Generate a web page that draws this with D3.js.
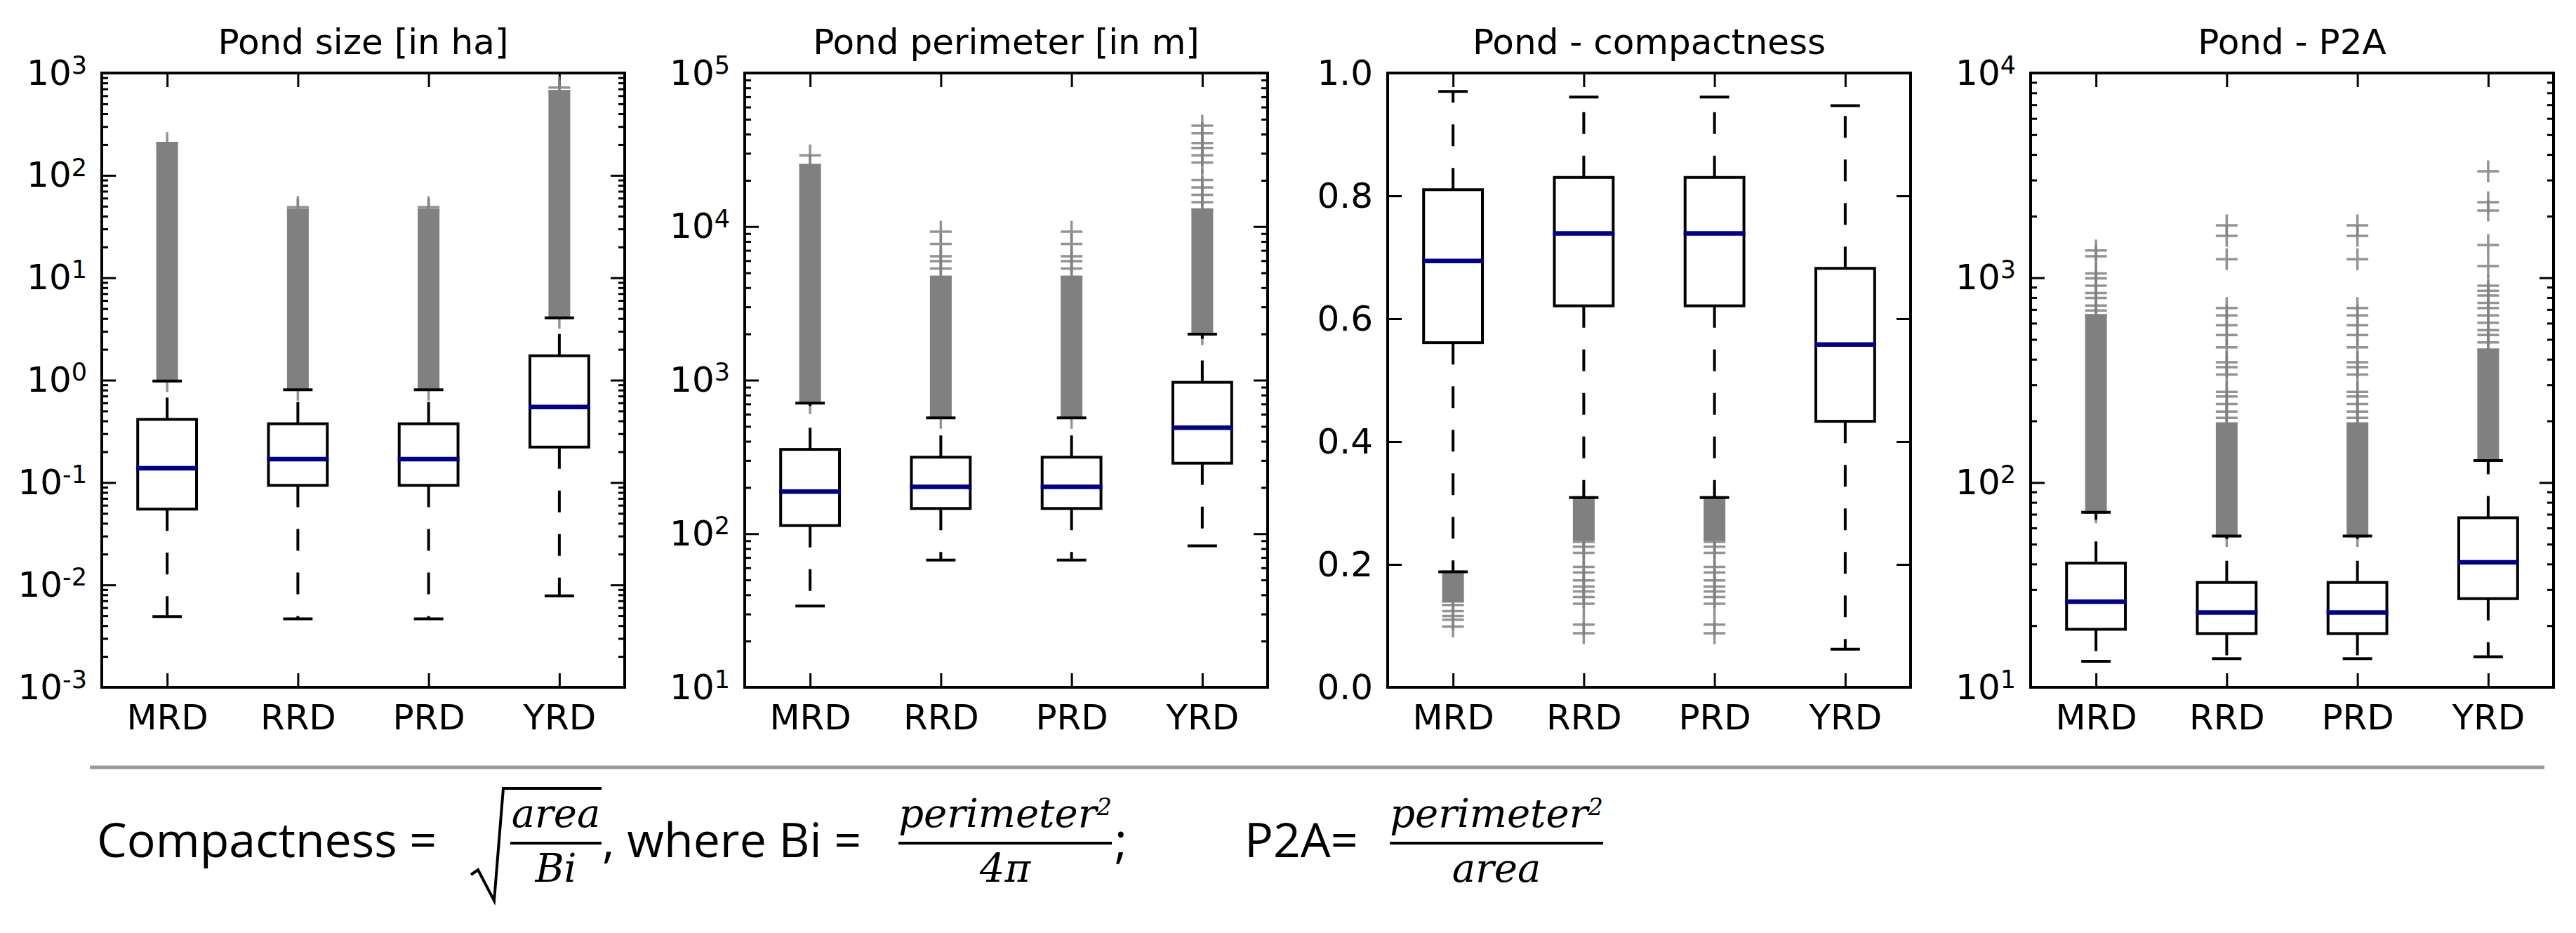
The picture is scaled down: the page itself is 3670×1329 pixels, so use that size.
<!DOCTYPE html>
<html>
<head>
<meta charset="utf-8">
<title>Pond shape metrics by delta</title>
<script src="https://cdn.jsdelivr.net/npm/d3@7"></script>
<style>
  body { margin: 0; background: #fff; }
  text { font-family: "DejaVu Sans", sans-serif; fill: #000; }
  .frame { fill: none; stroke: #000; stroke-width: 4; }
  .tick line { stroke: #000; stroke-width: 3; }
  .tick text { font-size: 50px; }
  .title { font-size: 50px; }
  .box { fill: none; stroke: #000; stroke-width: 4; }
  .whisker { stroke: #000; stroke-width: 4; stroke-dasharray: 31, 31; }
  .cap { stroke: #000; stroke-width: 4; }
  .median { stroke: #00008b; stroke-width: 6.5; }
  .band { fill: #808080; }
  .flier { fill: none; stroke: #808080; stroke-width: 3.5; stroke-opacity: 0.85; }
  .formula { font-family: "Open Sans", sans-serif; font-size: 68px; }
  .math { font-family: "DejaVu Serif", serif; font-style: italic; font-size: 56px; }
</style>
</head>
<body>
<script>
var groups = ["MRD", "RRD", "PRD", "YRD"];

// box stats per group: [lower cap, q1, median, q3, upper cap]
var sizeStats = [
    [0.0049, 0.055, 0.138, 0.414, 0.98],
    [0.00466, 0.0938, 0.169, 0.375, 0.805],
    [0.00466, 0.0938, 0.169, 0.375, 0.805],
    [0.00783, 0.222, 0.546, 1.73, 4.06]
];
// runs of outliers so dense they merge into a solid column: [from, to]
var sizeBands = [
    [[0.98, 207]],
    [[0.805, 46]],
    [[0.805, 46]],
    [[4.06, 664]]
];
// single outliers
var sizeFliers = [
    [],
    [49],
    [49],
    [720]
];

var perimStats = [
    [33.8, 113, 188, 354, 709],
    [67.3, 146, 202, 315, 568],
    [67.3, 146, 202, 315, 568],
    [83.3, 288, 490, 968, 1995]
];
var perimBands = [
    [[709, 25100]],
    [[568, 4700]],
    [[568, 4700]],
    [[1995, 12900]]
];
var perimFliers = [
    [29100],
    [5330, 5950, 6410, 7710, 9270],
    [5330, 5950, 6410, 7710, 9270],
    [14400, 16100, 18000, 20100, 26100, 29100, 32500, 35000, 40600, 45400]
];

var compStats = [
    [0.188, 0.561, 0.694, 0.810, 0.970],
    [0.309, 0.621, 0.739, 0.830, 0.961],
    [0.309, 0.621, 0.739, 0.830, 0.961],
    [0.062, 0.433, 0.558, 0.682, 0.947]
];
var compBands = [
    [[0.140, 0.188]],
    [[0.241, 0.309]],
    [[0.241, 0.309]],
    []
];
var compFliers = [
    [0.134, 0.124, 0.116, 0.110, 0.099],
    [0.237, 0.229, 0.219, 0.196, 0.187, 0.174, 0.164, 0.156, 0.147, 0.136, 0.102, 0.088],
    [0.237, 0.229, 0.219, 0.196, 0.187, 0.174, 0.164, 0.156, 0.147, 0.136, 0.102, 0.088],
    []
];

var p2aStats = [
    [13.4, 19.2, 26.2, 40.4, 71.5],
    [13.8, 18.3, 23.2, 32.5, 54.8],
    [13.8, 18.3, 23.2, 32.5, 54.8],
    [14.1, 27.1, 40.8, 67.3, 128]
];
var p2aBands = [
    [[71.5, 655]],
    [[54.8, 194]],
    [[54.8, 194]],
    [[128, 445]]
];
var p2aFliers = [
    [692, 732, 796, 841, 914, 993, 1050, 1274, 1360],
    [207, 222, 242, 263, 277, 337, 366, 387, 457, 525, 587, 655, 711, 1233, 1603, 1803],
    [207, 222, 242, 263, 277, 337, 366, 387, 457, 525, 587, 655, 711, 1233, 1603, 1803],
    [483, 525, 555, 603, 655, 711, 753, 818, 864, 914, 1140, 1445, 2128, 2339, 3311]
];

var compTicks = [0, 0.2, 0.4, 0.6, 0.8, 1.0];

var panels = [
    {title: "Pond size [in ha]", log: true, domain: [1e-3, 1e3], stats: sizeStats, bands: sizeBands, fliers: sizeFliers},
    {title: "Pond perimeter [in m]", log: true, domain: [1e1, 1e5], stats: perimStats, bands: perimBands, fliers: perimFliers},
    {title: "Pond - compactness", log: false, domain: [0, 1], stats: compStats, bands: compBands, fliers: compFliers},
    {title: "Pond - P2A", log: true, domain: [1e1, 1e4], stats: p2aStats, bands: p2aBands, fliers: p2aFliers}
];

var width = 3670, height = 1329;
var plotW = 745, plotH = 875, plotTop = 104, plotLeft = 145, plotStep = 916;

var svg = d3.select("body").append("svg")
    .attr("width", width)
    .attr("height", height);

svg.append("rect").attr("width", width).attr("height", height).attr("fill", "#fff");

panels.forEach(renderPanel);
renderFormula();

function decades(domain) {
    var lo = Math.round(Math.log10(domain[0])), hi = Math.round(Math.log10(domain[1]));
    return d3.range(lo, hi + 1);
}

function renderPanel(p, i) {
    var g = svg.append("g")
        .attr("transform", "translate(" + (plotLeft + i * plotStep) + "," + plotTop + ")");

    var x = d3.scaleLinear().domain([0.5, 4.5]).range([0, plotW]);
    var y = (p.log ? d3.scaleLog() : d3.scaleLinear()).domain(p.domain).range([plotH, 0]);

    var majors = p.log ? decades(p.domain).map(function (e) { return Math.pow(10, e); }) : compTicks;
    var minors = [];
    if (p.log) {
        decades(p.domain).slice(0, -1).forEach(function (e) {
            for (var k = 2; k < 10; k++) minors.push(k * Math.pow(10, e));
        });
    }

    // left axis with labels
    var left = g.append("g").attr("class", "axis")
        .call(d3.axisLeft(y).tickValues(majors).tickSizeInner(-20).tickSizeOuter(0).tickPadding(21)
            .tickFormat(p.log ? function () { return ""; } : d3.format(".1f")));
    if (p.log) {
        left.selectAll(".tick text").each(function (d) {
            var t = d3.select(this);
            t.append("tspan").text("10");
            t.append("tspan").attr("dy", "-0.45em").attr("font-size", "0.7em")
                .text(String(Math.round(Math.log10(d))));
        });
    }
    g.append("g").attr("transform", "translate(" + plotW + ",0)")
        .call(d3.axisRight(y).tickValues(majors).tickSizeInner(-20).tickSizeOuter(0).tickFormat(""));
    if (minors.length) {
        g.append("g")
            .call(d3.axisLeft(y).tickValues(minors).tickSizeInner(-9).tickSizeOuter(0).tickFormat(""));
        g.append("g").attr("transform", "translate(" + plotW + ",0)")
            .call(d3.axisRight(y).tickValues(minors).tickSizeInner(-9).tickSizeOuter(0).tickFormat(""));
    }

    g.append("g").attr("transform", "translate(0," + plotH + ")")
        .call(d3.axisBottom(x).tickValues([1, 2, 3, 4]).tickSizeInner(-20).tickSizeOuter(0).tickPadding(24)
            .tickFormat(function (d) { return groups[d - 1]; }));
    g.append("g")
        .call(d3.axisTop(x).tickValues([1, 2, 3, 4]).tickSizeInner(-20).tickSizeOuter(0).tickFormat(""));

    g.selectAll(".domain").remove();
    g.selectAll(".tick text").attr("fill", "#000");

    g.append("text").attr("class", "title")
        .attr("x", plotW / 2).attr("y", -27)
        .attr("text-anchor", "middle")
        .text(p.title);

    var bw = x(1.45) - x(1);
    var marks = g.append("g");

    groups.forEach(function (name, j) {
        var cx = x(j + 1), s = p.stats[j];
        var mg = marks.append("g");

        // dense outlier columns
        p.bands[j].forEach(function (b) {
            mg.append("rect").attr("class", "band")
                .attr("x", cx - 15.5).attr("width", 31)
                .attr("y", y(b[1]) - 1.75)
                .attr("height", y(b[0]) - y(b[1]) + 3.5);
        });
        var ends = [];
        p.bands[j].forEach(function (b) { ends.push(b[0], b[1]); });
        mg.selectAll(".flier").data(ends.concat(p.fliers[j])).enter()
            .append("path").attr("class", "flier")
            .attr("d", function (v) {
                var yy = y(v);
                return "M" + (cx - 15.5) + "," + yy + "H" + (cx + 15.5) +
                    "M" + cx + "," + (yy - 15.5) + "V" + (yy + 15.5);
            });

        // whiskers from the box out to the caps
        mg.append("line").attr("class", "whisker")
            .attr("x1", cx).attr("x2", cx).attr("y1", y(s[3])).attr("y2", y(s[4]));
        mg.append("line").attr("class", "whisker")
            .attr("x1", cx).attr("x2", cx).attr("y1", y(s[1])).attr("y2", y(s[0]));
        [s[0], s[4]].forEach(function (v) {
            mg.append("line").attr("class", "cap")
                .attr("x1", cx - bw / 4).attr("x2", cx + bw / 4)
                .attr("y1", y(v)).attr("y2", y(v));
        });

        mg.append("rect").attr("class", "box")
            .attr("x", cx - bw / 2).attr("width", bw)
            .attr("y", y(s[3])).attr("height", y(s[1]) - y(s[3]));
        mg.append("line").attr("class", "median")
            .attr("x1", cx - bw / 2 - 2).attr("x2", cx + bw / 2 + 2)
            .attr("y1", y(s[2])).attr("y2", y(s[2]));
    });

    g.append("rect").attr("class", "frame")
        .attr("width", plotW).attr("height", plotH);
}

function renderFormula() {
    var f = svg.append("g");

    f.append("line")
        .attr("x1", 128).attr("x2", 3625).attr("y1", 1093).attr("y2", 1093)
        .attr("stroke", "#999").attr("stroke-width", 5);

    f.append("text").attr("class", "formula").attr("x", 138).attr("y", 1221).text("Compactness =");

    // radical sign over area / Bi
    f.append("path")
        .attr("d", "M671,1246 L681,1239 L704,1283 L717,1123 L857,1123")
        .attr("fill", "none").attr("stroke", "#000").attr("stroke-width", 4);

    fraction(792, 727, 857, ["area"], ["Bi"]);
    f.append("text").attr("class", "formula").attr("x", 858).attr("y", 1221).text(", where Bi =");
    fraction(1432, 1280, 1584, ["perimeter", "2"], ["4\u03c0"]);
    f.append("text").attr("class", "formula").attr("x", 1588).attr("y", 1221).text(";");
    f.append("text").attr("class", "formula").attr("x", 1773).attr("y", 1221).text("P2A=");
    fraction(2132, 1980, 2284, ["perimeter", "2"], ["area"]);

    function fraction(cx, x1, x2, num, den) {
        var t = f.append("text").attr("class", "math").attr("x", cx).attr("y", 1178).attr("text-anchor", "middle");
        t.append("tspan").text(num[0]);
        if (num[1]) t.append("tspan").attr("dy", "-0.5em").attr("font-size", "0.6em").text(num[1]);
        f.append("line").attr("x1", x1).attr("x2", x2).attr("y1", 1201).attr("y2", 1201)
            .attr("stroke", "#000").attr("stroke-width", 4);
        f.append("text").attr("class", "math").attr("x", cx).attr("y", 1256).attr("text-anchor", "middle").text(den[0]);
    }
}
</script>
</body>
</html>
